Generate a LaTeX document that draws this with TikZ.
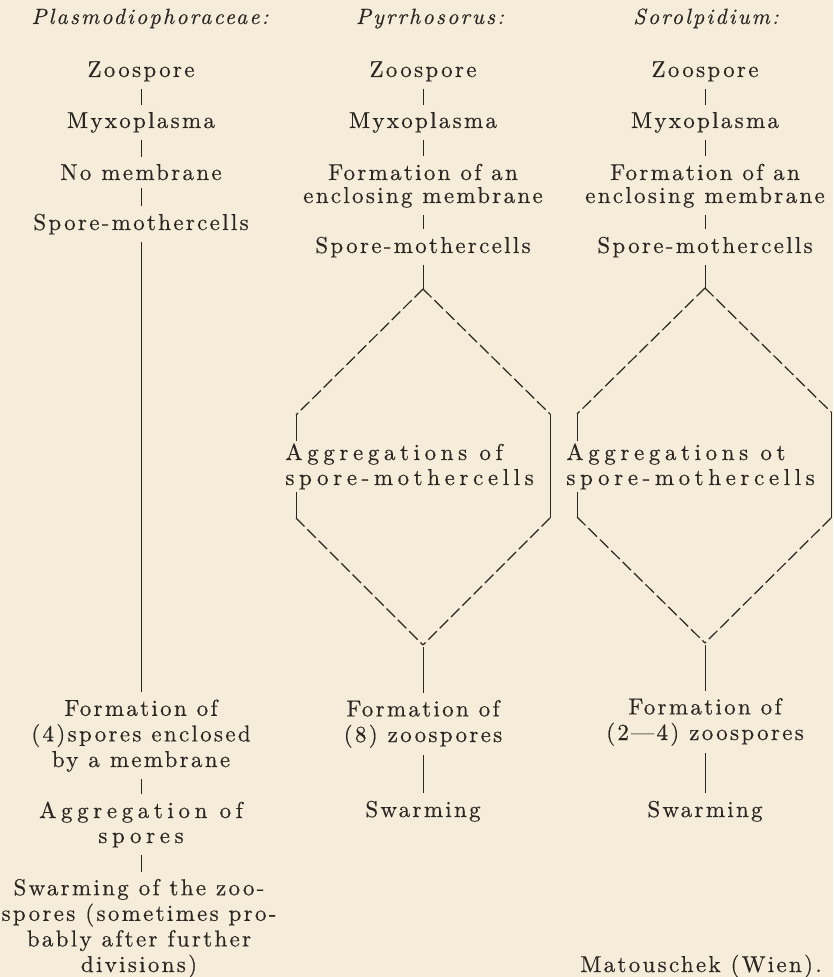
\documentclass[tikz,border=0pt]{standalone}
\usepackage{fontspec}
\setmainfont{lmroman10}[Extension=.otf, UprightFont=*-regular, ItalicFont=*-italic, BoldFont=*-bold, BoldItalicFont=*-bolditalic]
\newfontfamily\stagefont{lmroman10}[Extension=.otf, UprightFont=*-regular, ItalicFont=*-italic, Ligatures=TeX, LetterSpace=10, FakeBold=0.4]
\newfontfamily\widefont{lmroman10}[Extension=.otf, UprightFont=*-regular, ItalicFont=*-italic, Ligatures=TeX, LetterSpace=20, FakeBold=0.4]
\usepackage{tikz}
\usetikzlibrary{positioning}
\definecolor{paper}{RGB}{245,236,217}
\definecolor{ink}{RGB}{42,38,34}
\tikzset{
  stage/.style   ={inner sep=1pt, align=center, text=ink, anchor=base,
                   font=\stagefont\fontsize{11.5}{12.8}\selectfont},
  stageW/.style  ={stage, font=\widefont\fontsize{11.5}{12.5}\selectfont},
  stageT/.style  ={stage, font=\stagefont\fontsize{11.5}{11.5}\selectfont},
  head/.style    ={stage, font=\stagefont\itshape\fontsize{11}{12}\selectfont},
  link/.style    ={draw=ink, line width=0.5pt, shorten <=2.5pt, shorten >=2.5pt},
  faint/.style   ={link, line width=0.3pt},
  side/.style    ={draw=ink, line width=0.5pt},
  dashlink/.style={draw=ink, line width=0.6pt, dash pattern=on 6pt off 2pt},
}

\begin{document}
\begin{tikzpicture}[x=0.5pt, y=-0.5pt]
  \fill[paper] (0,0) rectangle (833,977);
  \useasboundingbox (0,0) rectangle (833,977);
  % headings
  \node[head] (hplas) at (150,24) {Plasmodiophoraceae:};
  \node[head] (hpyrr) at (430,24) {Pyrrhosorus:};
  \node[head] (hsoro) at (706,24) {Sorolpidium:};
  % Plasmodiophoraceae
  \node[stage]  (zoo1) at (141,77)  {Zoospore};
  \node[stage]  (myx1) at (141,128) {Myxoplasma};
  \node[stage]  (nom1) at (141,180) {No membrane};
  \node[stage]  (smc1) at (141,230) {Spore-mothercells};
  \node[stage]  (frm1) at (141,767) {Formation of\\(4)spores enclosed\\by a membrane};
  \node[stageW] (agg1) at (141,843) {Aggregation of\\spores};
  \node[stage]  (swa1) at (139,972) {Swarming of the zoo-\\spores (sometimes pro-\\bably after further\\divisions)};
  \draw[link]  (zoo1) -- (myx1);
  \draw[link]  (myx1) -- (nom1);
  \draw[link]  (nom1) -- (smc1);
  \draw[faint] (smc1) -- (frm1);
  \draw[link]  (frm1) -- (agg1);
  \draw[link]  (agg1) -- (agg1 |- swa1.north);
  % Pyrrhosorus
  \node[stage]  (zoo2) at (423,77)  {Zoospore};
  \node[stage]  (myx2) at (423,128) {Myxoplasma};
  \node[stageT] (enc2) at (423,203) {Formation of an\\enclosing membrane};
  \node[stage]  (smc2) at (423,253) {Spore-mothercells};
  \node[stageW, anchor=base west, align=left] (agg2) at (283,485) {Aggregations of\\spore-mothercells};
  \node[stage]  (frm2) at (423,742) {Formation of\\(8) zoospores};
  \node[stage]  (swa2) at (423,817) {Swarming};
  \coordinate (top2) at (423,289);
  \coordinate (lft2) at (296,415);
  \coordinate (lfb2) at (296,518);
  \coordinate (rgt2) at (550,414);
  \coordinate (rgb2) at (550,518);
  \coordinate (bot2) at (423,645);
  \draw[link]  (zoo2) -- (myx2);
  \draw[link]  (myx2) -- (enc2);
  \draw[link]  (enc2) -- (smc2);
  \draw[link, shorten >=0pt] (smc2) -- (top2);
  \draw[dashlink] (top2) -- (lft2);
  \draw[side]  (lft2) -- (lft2 |- agg2.north);
  \draw[side]  (lfb2 |- agg2.south) -- (lfb2);
  \draw[dashlink] (lfb2) -- (bot2);
  \draw[dashlink] (top2) -- (rgt2);
  \draw[side]  (rgt2) -- (rgb2);
  \draw[dashlink] (rgb2) -- (bot2);
  \draw[faint, shorten <=1pt] (bot2) -- (frm2);
  \draw[link]  (frm2) -- (swa2);
  % Sorolpidium
  \node[stage]  (zoo3) at (705,77)  {Zoospore};
  \node[stage]  (myx3) at (705,128) {Myxoplasma};
  \node[stageT] (enc3) at (705,203) {Formation of an\\enclosing membrane};
  \node[stage]  (smc3) at (705,253) {Spore-mothercells};
  \node[stageW, anchor=base west, align=left] (agg3) at (564,485) {Aggregations ot\\spore-mothercells};
  \node[stage]  (frm3) at (705,740) {Formation of\\(2—4) zoospores};
  \node[stage]  (swa3) at (705,817) {Swarming};
  \coordinate (top3) at (705,288);
  \coordinate (lft3) at (577,414);
  \coordinate (lfb3) at (577,517);
  \coordinate (rgt3) at (831,412);
  \coordinate (rgb3) at (831,518);
  \coordinate (bot3) at (705,643);
  \draw[link]  (zoo3) -- (myx3);
  \draw[link]  (myx3) -- (enc3);
  \draw[link]  (enc3) -- (smc3);
  \draw[faint, shorten >=0pt] (smc3) -- (top3);
  \draw[dashlink] (top3) -- (lft3);
  \draw[side]  (lft3) -- (lft3 |- agg3.north);
  \draw[side]  (lfb3 |- agg3.south) -- (lfb3);
  \draw[dashlink] (lfb3) -- (bot3);
  \draw[dashlink] (top3) -- (rgt3);
  \draw[side]  (rgt3) -- (rgb3);
  \draw[dashlink] (rgb3) -- (bot3);
  \draw[faint, shorten <=1pt] (bot3) -- (frm3);
  \draw[link]  (frm3) -- (swa3);
  % credit
  \node[stage] (credit) at (701,972) {Matouschek (Wien).};
\end{tikzpicture}
\end{document}
